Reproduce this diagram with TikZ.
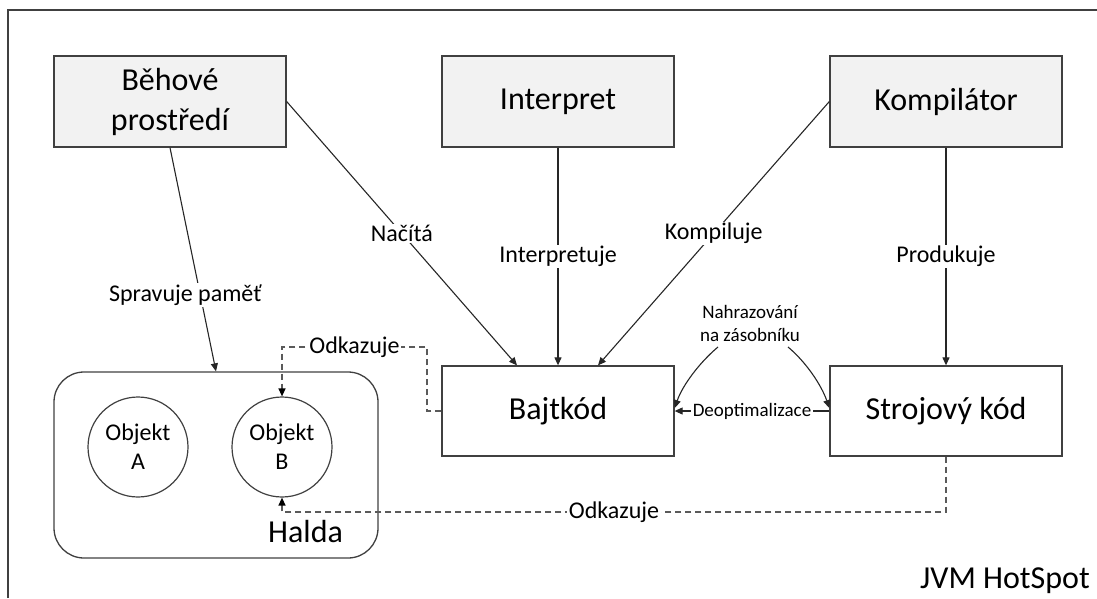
\documentclass[tikz,border=0pt]{standalone}
\usepackage{fontspec}
\setmainfont{Carlito}
\usetikzlibrary{arrows.meta,calc}
\definecolor{boxfill}{HTML}{F2F2F2}
\definecolor{edgec}{HTML}{404040}
\definecolor{dashc}{HTML}{5A5A5A}
\begin{document}
\begin{tikzpicture}[x=1pt,y=-1pt,
  box/.style={draw=edgec, line width=1.3pt, fill=boxfill, minimum width=232pt, minimum height=91pt, align=center, font=\fontsize{32}{40}\selectfont, inner sep=0pt},
  wbox/.style={box, fill=white, minimum height=90pt},
  obj/.style={circle, draw=edgec, line width=1.2pt, minimum size=100pt, align=center, font=\fontsize{24}{29}\selectfont, inner sep=0pt},
  conn/.style={draw=black!85, line width=1.1pt, -{Triangle[length=8pt,width=7pt]}},
  dsh/.style={draw=dashc, line width=1.3pt, dash pattern=on 6pt off 4pt, -{Triangle[length=8pt,width=7pt,color=black]}},
  lbl/.style={fill=white, inner sep=1.5pt, font=\fontsize{24}{29}\selectfont, text=black},
  slbl/.style={lbl, font=\fontsize{19}{23}\selectfont, align=center}]
\useasboundingbox (0,0) rectangle (1097,598);
\draw[edgec, line width=1.3pt] (8,598) -- (8,10) -- (1097,10);

\node[box] (beh) at (170,101.5) {Běhové\\prostředí};
\node[box] (int) at (558,101.5) {Interpret};
\node[box] (komp) at (946,101.5) {Kompilátor};
\node[wbox] (baj) at (558,411) {Bajtkód};
\node[wbox] (stroj) at (946,411) {Strojový kód};
\node[draw=edgec, line width=1.3pt, rounded corners=30pt, minimum width=324pt, minimum height=186pt] (halda) at (216,465) {};
\node[anchor=base west, inner sep=0pt, font=\fontsize{32}{38}\selectfont] (haldat) at (268,542) {Halda};
\node[obj] (objA) at (138,447) {Objekt\\A};
\node[obj] (objB) at (282,447) {Objekt\\B};
\node[anchor=base east, inner sep=0pt, font=\fontsize{32}{38}\selectfont] (jvm) at (1090,588) {JVM HotSpot};

\draw[conn] (beh.south) -- node[lbl, pos=0.66, xshift=-15pt] {Spravuje paměť} (halda.north);
\draw[conn] (beh.east) -- node[lbl] {Načítá} ($(baj.north)+(-41,0)$);
\draw[conn] (int.south) -- node[lbl] {Interpretuje} (baj.north);
\draw[conn] (komp.west) -- node[lbl] {Kompiluje} ($(baj.north)+(40,0)$);
\draw[conn] (komp.south) -- node[lbl] {Produkuje} (stroj.north);
\draw[conn] (stroj.west) -- node[slbl] {Deoptimalizace} (baj.east);

\node[slbl] (nahr) at (750,323) {Nahrazování\\na zásobníku};
\coordinate (s1) at (718,347);
\coordinate (s2) at (788,347);
\draw[conn] (s1) .. controls +(-18,15) and +(8,-23) .. ($(baj.east)+(0,-3)$);
\draw[conn] (s2) .. controls +(18,15) and +(-8,-23) .. ($(stroj.west)+(0,-3)$);

\coordinate (d1) at (427,347);
\draw[dsh] (baj.west) -| (d1) -| node[lbl, pos=0.25] {Odkazuje} (objB.north);
\coordinate (d2) at (282,512);
\draw[dsh] (stroj.south) |- node[lbl, pos=0.75] {Odkazuje} (d2) -- (objB.south);
\end{tikzpicture}
\end{document}
